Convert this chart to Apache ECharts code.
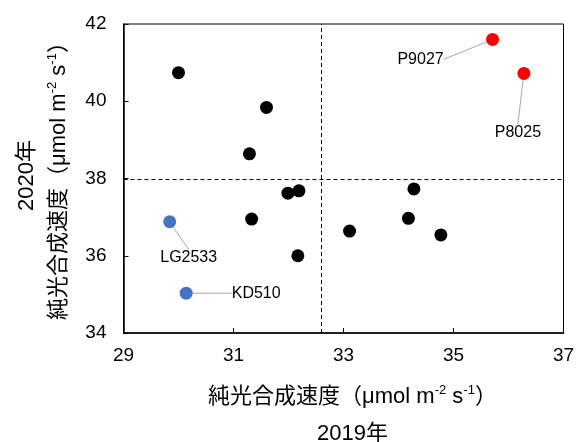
<!DOCTYPE html>
<html>
<head>
<meta charset="utf-8">
<script src="https://cdn.jsdelivr.net/npm/echarts@6/dist/echarts.min.js"></script>
<style>html,body{margin:0;padding:0;background:#fff}#c{width:576px;height:442px}</style>
</head>
<body>
<div id="c"></div>
<script>
// Black points (other varieties)
const otherX = [30.00, 31.60, 31.29, 31.99, 32.19, 31.33, 32.17, 33.11, 34.28, 34.18, 34.77];
const otherY = [40.74, 39.84, 38.64, 37.62, 37.68, 36.95, 36.00, 36.64, 37.73, 36.97, 36.54];
// Red highlighted points
const redNames = ['P9027', 'P8025'];
const redX = [35.71, 36.28];
const redY = [41.60, 40.72];
// Blue highlighted points
const blueNames = ['LG2533', 'KD510'];
const blueX = [29.84, 30.14];
const blueY = [36.88, 35.03];
// Reference (mean) lines
const meanX = 32.59;
const meanY = 37.97;
// Axis ticks
const xTicks = [29, 31, 33, 35, 37];
const yTicks = [34, 36, 38, 40, 42];

// label offsets (label presentation only)
const labelShift = {
  'P9027': [-72, 20],
  'P8025': [-6, 59],
  'LG2533': [19, 36],
  'KD510': [70, 0]
};

const font = '"Liberation Sans", Arial, sans-serif';
const cjk = '"Liberation Sans", "Noto Sans CJK JP", sans-serif';

function pts(xs, ys, names) {
  return xs.map((x, i) => names ? { name: names[i], value: [x, ys[i]] } : [x, ys[i]]);
}

const labelCfg = {
  show: true,
  position: 'inside',
  formatter: '{b}',
  color: '#000',
  fontSize: 16,
  fontFamily: font
};
const labelLineCfg = { show: true, lineStyle: { color: '#A6A6A6', width: 1 } };
function layout(p) {
  const s = labelShift[p.text] || [0, 0];
  return { dx: s[0], dy: s[1] };
}

const rich = {
  c: { fontSize: 22, fontFamily: cjk, color: '#000', lineHeight: 26 },
  s: { fontSize: 13, fontFamily: font, color: '#000', lineHeight: 16, verticalAlign: 'top' },
  d: { fontSize: 22, fontFamily: cjk, color: '#000', lineHeight: 48 },
  e: { fontSize: 22, fontFamily: cjk, color: '#000', lineHeight: 38 }
};
const titleMain = '{c|純光合成速度（μmol m}{s|-2}{c| s}{s|-1}{c|）}';

const chart = echarts.init(document.getElementById('c'), null, { renderer: 'canvas' });
chart.setOption({
  animation: false,
  grid: { left: 123.5, right: 12.5, top: 24, bottom: 109, show: true, borderColor: '#000', borderWidth: 1,
          containLabel: false, outerBoundsMode: 'none' },
  xAxis: {
    type: 'value', min: xTicks[0], max: xTicks[xTicks.length - 1], interval: 2,
    axisLine: { show: true, lineStyle: { color: '#000', width: 1.5 } },
    axisTick: { show: true, inside: true, length: 5, lineStyle: { color: '#000' } },
    axisLabel: { color: '#000', fontSize: 19, fontFamily: font, margin: 13 },
    splitLine: { show: false },
    name: titleMain + '\n{d|2019年}',
    nameLocation: 'middle', nameGap: 51,
    nameTextStyle: { rich: rich, padding: [0, 0, 0, 18] }
  },
  yAxis: {
    type: 'value', min: yTicks[0], max: yTicks[yTicks.length - 1], interval: 2,
    axisLine: { show: true, lineStyle: { color: '#000', width: 1.5 } },
    axisTick: { show: true, inside: true, length: 5, lineStyle: { color: '#000' } },
    axisLabel: { color: '#000', fontSize: 19, fontFamily: font, margin: 17 },
    splitLine: { show: false },
    name: '{e|2020年}\n' + titleMain,
    nameLocation: 'middle', nameGap: 52, nameRotate: 90,
    nameTextStyle: { rich: rich, padding: [0, 0, 0, 6] }
  },
  series: [
    {
      type: 'scatter', symbolSize: 13, itemStyle: { color: '#000', opacity: 1 },
      data: pts(otherX, otherY),
      markLine: {
        silent: true, symbol: 'none', label: { show: false },
        lineStyle: { color: '#000', type: [4, 3], width: 1 },
        data: [{ xAxis: meanX }, { yAxis: meanY }]
      }
    },
    {
      type: 'scatter', symbolSize: 13, itemStyle: { color: '#FF0000', opacity: 1 },
      data: pts(redX, redY, redNames),
      label: labelCfg, labelLine: labelLineCfg, labelLayout: layout
    },
    {
      type: 'scatter', symbolSize: 13, itemStyle: { color: '#4472C4', opacity: 1 },
      data: pts(blueX, blueY, blueNames),
      label: labelCfg, labelLine: labelLineCfg, labelLayout: layout
    }
  ]
});
</script>
</body>
</html>
